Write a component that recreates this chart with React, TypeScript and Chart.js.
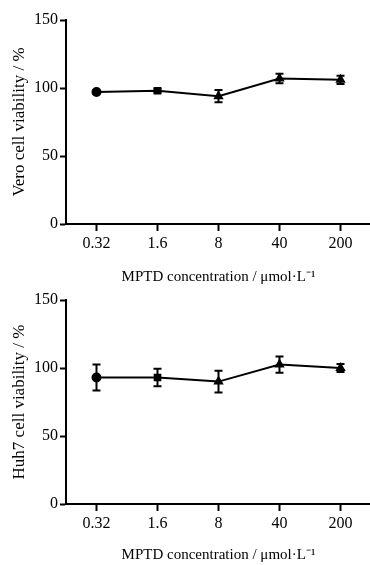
import React, { useEffect, useRef } from 'react';
import { Chart, registerables } from 'chart.js';

Chart.register(...registerables);

const concentrations = ['0.32', '1.6', '8', '40', '200'];
const yTicks = [0, 50, 100, 150];
const veroMean = [97, 98, 94, 107, 106];
const veroErr = [1, 1.5, 4.5, 3.5, 3];
const huh7Mean = [93, 93, 90, 102.5, 100];
const huh7Err = [9.5, 6.5, 8, 6, 3];
const pointStyles = ['circle', 'rect', 'triangle', 'triangle', 'triangle'];
const xTitle = 'MPTD concentration / μmol·L⁻¹';

const FONT = "'Liberation Serif', 'Times New Roman', serif";

const errorBarPlugin = {
  id: 'errorBars',
  afterDatasetsDraw(chart: any, _args: any, opts: any) {
    const errs: number[] = opts.errors || [];
    const meta = chart.getDatasetMeta(0);
    const ys = chart.scales.y;
    const ctx = chart.ctx;
    const data = chart.data.datasets[0].data as number[];
    ctx.save();
    ctx.strokeStyle = '#000';
    ctx.lineWidth = 2;
    meta.data.forEach((pt: any, i: number) => {
      const e = errs[i];
      if (!e) return;
      const x = pt.x;
      const top = ys.getPixelForValue(data[i] + e);
      const bot = ys.getPixelForValue(data[i] - e);
      const cap = 4;
      ctx.beginPath();
      ctx.moveTo(x, top);
      ctx.lineTo(x, bot);
      ctx.moveTo(x - cap, top);
      ctx.lineTo(x + cap, top);
      ctx.moveTo(x - cap, bot);
      ctx.lineTo(x + cap, bot);
      ctx.stroke();
    });
    ctx.restore();
  },
};

const CANVAS_W = 377;

function Panel({ means, errs, yTitle, top, height, titlePad }: any) {
  const ref = useRef<HTMLCanvasElement>(null);
  useEffect(() => {
    if (!ref.current) return;
    const chart = new Chart(ref.current, {
      type: 'line',
      data: {
        labels: concentrations,
        datasets: [
          {
            data: means,
            borderColor: '#000',
            borderWidth: 2,
            backgroundColor: '#000',
            pointBackgroundColor: '#000',
            pointBorderColor: '#000',
            pointRadius: 4,
            pointStyle: pointStyles as any,
            tension: 0,
          },
        ],
      },
      options: {
        animation: false,
        responsive: false,
        devicePixelRatio: 1,
        layout: { padding: { top: 20, left: 0, right: 0, bottom: 0 } },
        plugins: {
          legend: { display: false },
          tooltip: { enabled: false },
          errorBars: { errors: errs },
        } as any,
        scales: {
          x: {
            type: 'category',
            offset: true,
            grid: {
              display: true,
              offset: false,
              drawOnChartArea: false,
              drawTicks: true,
              tickLength: 7,
              tickWidth: 2,
              color: '#000',
            },
            border: { display: true, color: '#000', width: 2 },
            ticks: {
              color: '#000',
              font: { family: FONT, size: 16 },
              padding: 3,
              maxRotation: 0,
            },
            title: {
              display: true,
              text: xTitle,
              color: '#000',
              font: { family: FONT, size: 15 },
              padding: { top: 0, bottom: titlePad },
            },
            afterFit: (s: any) => {
              s.height = height - 224;
            },
          },
          y: {
            min: 0,
            max: 150,
            afterBuildTicks: (s: any) => {
              s.ticks = yTicks.map((v) => ({ value: v }));
            },
            grid: {
              display: true,
              drawOnChartArea: false,
              drawTicks: true,
              tickLength: 6,
              tickWidth: 2,
              color: '#000',
            },
            border: { display: true, color: '#000', width: 2 },
            ticks: {
              color: '#000',
              font: { family: FONT, size: 16 },
              padding: 2,
            },
            title: {
              display: true,
              text: yTitle,
              color: '#000',
              font: { family: FONT, size: 17 },
              padding: { top: 9, bottom: 0 },
            },
            afterFit: (s: any) => {
              s.width = 66;
            },
          },
        },
      },
      plugins: [errorBarPlugin],
    });
    return () => chart.destroy();
  }, []);
  return (
    <canvas
      ref={ref}
      width={CANVAS_W}
      height={height}
      style={{ position: 'absolute', left: 0, top, width: CANVAS_W, height }}
    />
  );
}

export default function App() {
  return (
    <div
      style={{
        position: 'absolute',
        left: 0,
        top: 0,
        width: 370,
        height: 565,
        overflow: 'hidden',
        background: '#fff',
      }}
    >
      <Panel means={veroMean} errs={veroErr} yTitle="Vero cell viability / %" top={0} height={290} titlePad={4} />
      <Panel means={huh7Mean} errs={huh7Err} yTitle="Huh7 cell viability / %" top={280} height={285} titlePad={1} />
    </div>
  );
}
